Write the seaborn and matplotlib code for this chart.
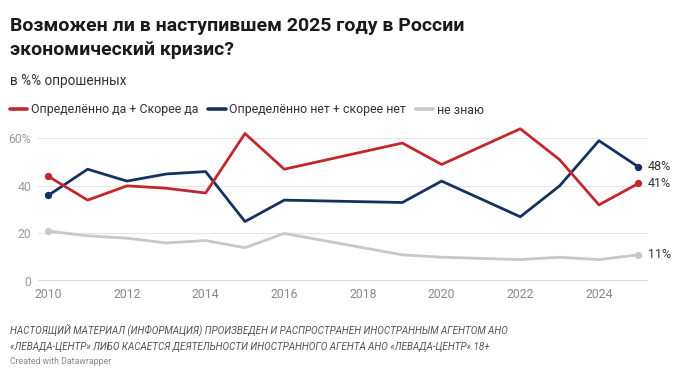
import matplotlib
matplotlib.use("Agg")
import matplotlib.pyplot as plt
import seaborn as sns
import pandas as pd
from matplotlib.lines import Line2D

years = [2010, 2011, 2012, 2013, 2014, 2015, 2016, 2019, 2020, 2022, 2023, 2024, 2025]
yes_vals = [44, 34, 40, 39, 37, 62, 47, 58, 49, 64, 51, 32, 41]
no_vals = [36, 47, 42, 45, 46, 25, 34, 33, 42, 27, 40, 59, 48]
dk_vals = [21, 19, 18, 16, 17, 14, 20, 11, 10, 9, 10, 9, 11]

series_names = ["Определённо да + Скорее да", "Определённо нет + скорее нет", "не знаю"]
colors = ["#c3272c", "#143260", "#c8c8c8"]
y_ticks = [0, 20, 40, 60]
y_tick_labels = ["0", "20", "40", "60%"]
x_ticks = [2010, 2012, 2014, 2016, 2018, 2020, 2022, 2024]

title = "Возможен ли в наступившем 2025 году в России\nэкономический кризис?"
subtitle = "в %% опрошенных"
footer = ("НАСТОЯЩИЙ МАТЕРИАЛ (ИНФОРМАЦИЯ) ПРОИЗВЕДЕН И РАСПРОСТРАНЕН ИНОСТРАННЫМ АГЕНТОМ АНО\n"
          "«ЛЕВАДА-ЦЕНТР» ЛИБО КАСАЕТСЯ ДЕЯТЕЛЬНОСТИ ИНОСТРАННОГО АГЕНТА АНО «ЛЕВАДА-ЦЕНТР».18+")
credit = "Created with Datawrapper"

df = pd.DataFrame({
    "year": years * 3,
    "value": yes_vals + no_vals + dk_vals,
    "series": [series_names[0]] * len(years) + [series_names[1]] * len(years) + [series_names[2]] * len(years),
})

sns.set_theme(style="white")
plt.rcParams["font.family"] = ["Roboto", "DejaVu Sans"]

W, H = 680, 377
fig = plt.figure(figsize=(W / 100, H / 100), dpi=100)
fig.patch.set_facecolor("white")

x_left, x_right = 38, 648
y_zero, y_top = 281, 126.4
ax = fig.add_axes([x_left / W, 1 - y_zero / H, (x_right - x_left) / W, (y_zero - y_top) / H])

palette = dict(zip(series_names, colors))
order = [series_names[2], series_names[1], series_names[0]]
sns.lineplot(data=df, x="year", y="value", hue="series", hue_order=order, palette=palette,
             linewidth=2.0, ax=ax, legend=False, zorder=3)

for name, vals in zip(series_names, [yes_vals, no_vals, dk_vals]):
    c = palette[name]
    ax.scatter([years[0], years[-1]], [vals[0], vals[-1]], color=c, s=28, zorder=4, linewidths=0)
    ax.annotate(f"{vals[-1]}%", (years[-1], vals[-1]), xytext=(7, 0), textcoords="offset points",
                va="center", ha="left", fontsize=9, color="#333333")

ax.set_xlim(2010 - 10.3 / 39.3, 2025 + 9.7 / 39.3)
ax.set_ylim(0, 65)
ax.set_yticks(y_ticks)
ax.set_yticklabels(y_tick_labels)
ax.set_xticks(x_ticks)
ax.set_xticklabels([str(x) for x in x_ticks])
ax.tick_params(axis="both", length=0, labelsize=8.8, colors="#8a8a8a")
ax.tick_params(axis="y", pad=5)
ax.tick_params(axis="x", pad=5)
for t in ax.get_yticklabels():
    t.set_color("#9a9a9a")
for v in [20, 40, 60]:
    ax.axhline(v, color="#e6e6e6", linewidth=0.8, zorder=1)
ax.axhline(0, color="#333333", linewidth=1.0, zorder=2)
for s in ax.spines.values():
    s.set_visible(False)
ax.set_xlabel("")
ax.set_ylabel("")
ax.patch.set_alpha(0)

fig.text(10 / W, 1 - 55 / H, title, fontsize=14, fontweight="bold", color="#1a1a1a",
         va="baseline", ha="left", linespacing=1.4)
fig.text(10 / W, 1 - 85.5 / H, subtitle, fontsize=9.8, color="#333333", va="baseline", ha="left")

handles = [Line2D([0], [0], color=c, linewidth=2.6) for c in colors]
fig.legend(handles, series_names, ncol=3, loc="center left", bbox_to_anchor=(10 / W, 1 - 110 / H),
           frameon=False, fontsize=8.9, handlelength=1.4, handletextpad=0.3, columnspacing=0.8,
           labelcolor="#333333", borderaxespad=0, borderpad=0)

fig.text(10 / W, 1 - 350 / H, footer, fontsize=7.15, style="italic", color="#555555",
         va="baseline", ha="left", linespacing=1.7)
fig.text(10 / W, 1 - 364.5 / H, credit, fontsize=6.3, color="#8a8a8a", va="baseline", ha="left")

fig.savefig("out.png", dpi=100, facecolor="white")
